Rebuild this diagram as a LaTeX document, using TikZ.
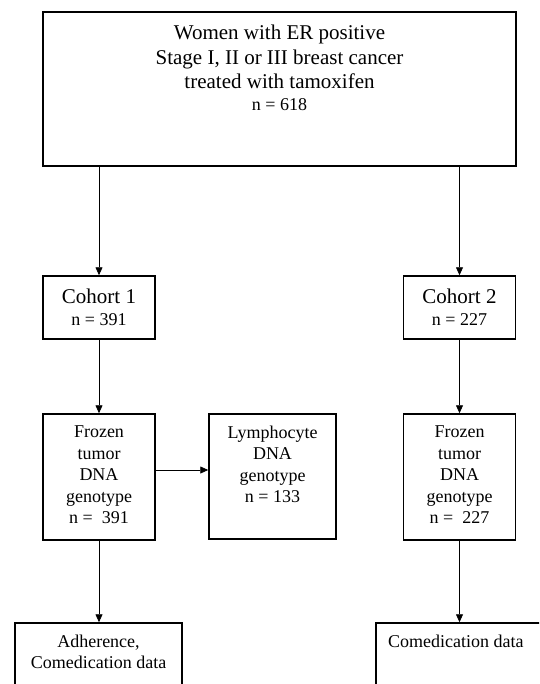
\documentclass[tikz,border=0pt]{standalone}
\usepackage{fontspec}
\setmainfont{Liberation Serif}
\usetikzlibrary{arrows.meta,calc}
\begin{document}
\begin{tikzpicture}[x=1pt,y=-1pt,
  box/.style={draw, line width=1.5pt, inner sep=0pt},
  arr/.style={line width=0.8pt, -{Triangle[length=8pt,width=7pt]}},
  txt/.style={inner sep=0pt, align=center, anchor=north},
  bigf/.style={font=\fontsize{21}{24.3}\selectfont},
  smallf/.style={font=\fontsize{18}{21.5}\selectfont}]
\useasboundingbox (0,0) rectangle (539,684);
\clip (0,0) rectangle (539,684);
% boxes
\node[box, minimum width=473pt, minimum height=154pt] (top) at (279.5,89) {};
\node[box, minimum width=112pt, minimum height=63pt] (c1) at (99,307.5) {};
\node[box, minimum width=112pt, minimum height=63pt] (c2) at (459.5,307.5) {};
\node[box, minimum width=112pt, minimum height=126pt] (f1) at (99,477) {};
\node[box, minimum width=127pt, minimum height=125pt] (ly) at (272.5,476.5) {};
\node[box, minimum width=112pt, minimum height=126pt] (f2) at (459.5,477) {};
\node[box, minimum width=167pt, minimum height=97pt] (bl) at (98.5,671.5) {};
\node[box, minimum width=204pt, minimum height=97pt] (br) at (478,671.5) {};
% texts
\node[txt, bigf] (toptxt) at (279.5,25.2) {Women with ER positive\\Stage I, II or III breast cancer\\treated with tamoxifen\\[-2.3pt]{\fontsize{18}{21.5}\selectfont n = 618}};
\node[txt, bigf] (c1txt) at (99,288.4) {Cohort 1\\[-2pt]{\fontsize{18}{21.5}\selectfont n = 391}};
\node[txt, bigf] (c2txt) at (459.5,288.4) {Cohort 2\\[-2pt]{\fontsize{18}{21.5}\selectfont n = 227}};
\node[txt, smallf] (f1txt) at (99,425.8) {Frozen\\tumor\\DNA\\genotype\\n =\ \ 391};
\node[txt, smallf] (lytxt) at (272.5,425.8) {Lymphocyte\\DNA\\genotype\\n = 133};
\node[txt, smallf] (f2txt) at (459.5,425.8) {Frozen\\tumor\\DNA\\genotype\\n =\ \ 227};
\node[txt, smallf] (bltxt) at (98.5,634.4) {Adherence,\\Comedication data};
\node[txt, smallf, anchor=north west] (brtxt) at (388,634.4) {Comedication data};
% connectors
\draw[arr] (top.south -| c1.north) -- (c1.north);
\draw[arr] (top.south -| c2.north) -- (c2.north);
\draw[arr] (c1.south) -- (f1.north);
\draw[arr] (c2.south) -- (f2.north);
\draw[arr] ([yshift=7pt]f1.east) -- ([yshift=7pt]f1.east -| ly.west);
\draw[arr] (f1.south) -- (f1.south |- bl.north);
\draw[arr] (f2.south) -- (f2.south |- br.north);
\end{tikzpicture}
\end{document}
